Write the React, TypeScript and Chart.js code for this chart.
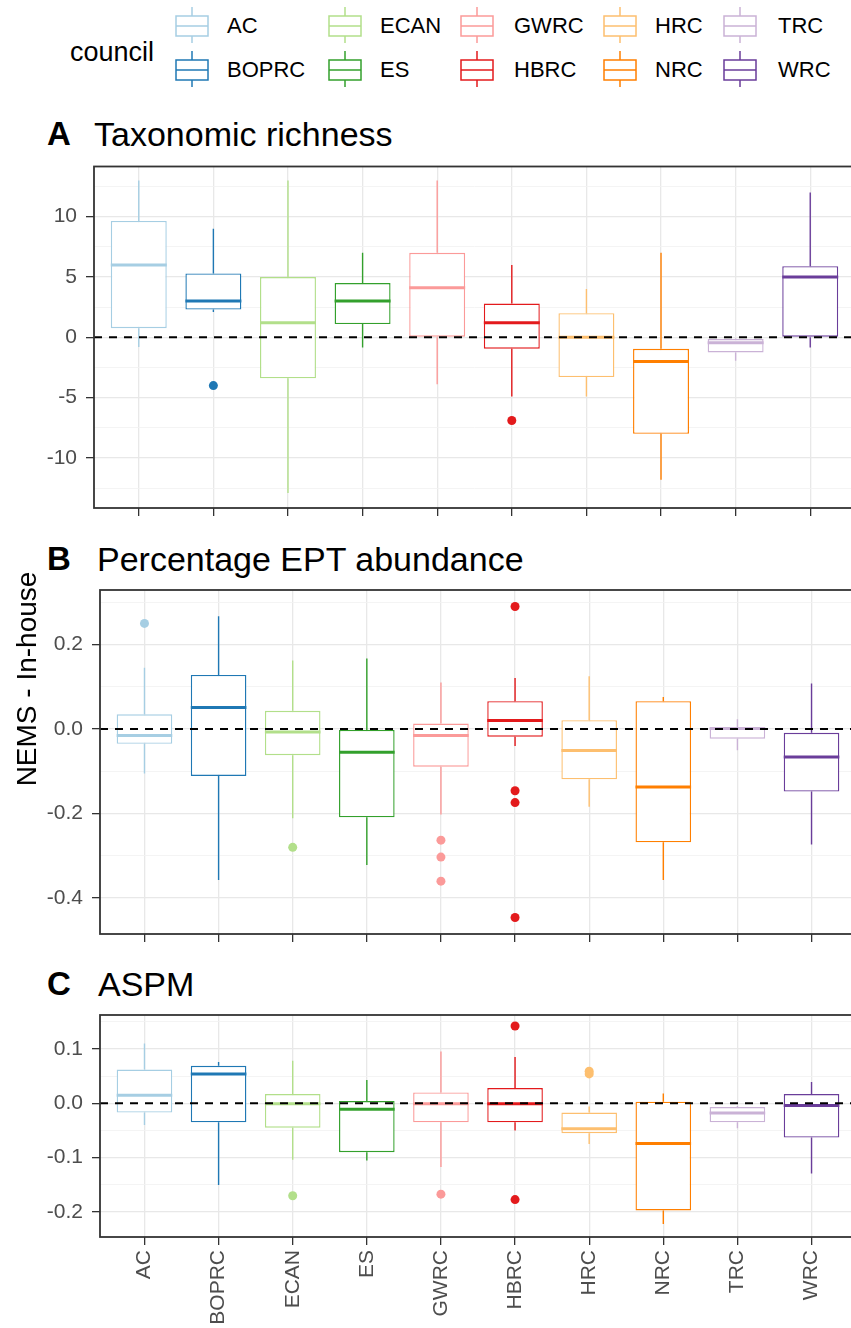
import React, { useEffect, useRef } from "react";
import { Chart, registerables } from "chart.js";
Chart.register(...registerables);

// ---------- data ----------
const councils = ["AC", "BOPRC", "ECAN", "ES", "GWRC", "HBRC", "HRC", "NRC", "TRC", "WRC"];
const councilColors = ["#A6CEE3", "#1F78B4", "#B2DF8A", "#33A02C", "#FB9A99", "#E31A1C", "#FDBF6F", "#FF7F00", "#CAB2D6", "#6A3D9A"];

// A: Taxonomic richness
const richLow = [-0.8, 2.1, -12.9, -0.85, -3.9, -4.9, -4.9, -11.8, -1.95, -0.85];
const richQ1 = [0.75, 2.3, -3.4, 1.1, 0, -0.95, -3.3, -8.0, -1.25, 0];
const richMed = [6.0, 3.0, 1.2, 3.0, 4.1, 1.2, 0, -2.0, -0.45, 5.0];
const richQ3 = [9.65, 5.3, 5.0, 4.5, 7.0, 2.8, 2.0, -0.95, -0.15, 5.9];
const richHigh = [13.0, 9.0, 13.0, 7.0, 13.0, 6.0, 4.0, 7.0, -0.1, 12.0];
const richOutliers = [[], [-4], [], [], [], [-6.9], [], [], [], []];
const richTicks = [-10, -5, 0, 5, 10];
const richTickLabels = ["-10", "-5", "0", "5", "10"];
const richMinor = [-12.5, -7.5, -2.5, 2.5, 7.5, 12.5];

// B: Percentage EPT abundance
const eptLow = [-0.105, -0.357, -0.211, -0.322, -0.202, -0.04, -0.184, -0.357, -0.05, -0.273];
const eptQ1 = [-0.035, -0.111, -0.062, -0.209, -0.089, -0.018, -0.119, -0.268, -0.023, -0.148];
const eptMed = [-0.015, 0.051, -0.007, -0.055, -0.015, 0.02, -0.051, -0.137, 0.001, -0.066];
const eptQ3 = [0.035, 0.128, 0.043, -0.002, 0.013, 0.066, 0.021, 0.066, 0.004, -0.009];
const eptHigh = [0.145, 0.267, 0.162, 0.167, 0.11, 0.121, 0.125, 0.076, 0.023, 0.108];
const eptOutliers = [[0.25], [], [-0.28], [], [-0.263, -0.303, -0.36], [0.29, -0.146, -0.174, -0.446], [], [], [], []];
const eptTicks = [-0.4, -0.2, 0, 0.2];
const eptTickLabels = ["-0.4", "-0.2", "0.0", "0.2"];
const eptMinor = [-0.3, -0.1, 0.1, 0.3];

// C: ASPM
const aspmLow = [-0.04, -0.15, -0.104, -0.105, -0.117, -0.05, -0.075, -0.222, -0.046, -0.129];
const aspmQ1 = [-0.017, -0.035, -0.045, -0.09, -0.035, -0.035, -0.055, -0.197, -0.035, -0.063];
const aspmMed = [0.015, 0.054, -0.001, -0.011, -0.001, -0.001, -0.047, -0.074, -0.018, -0.004];
const aspmQ3 = [0.062, 0.069, 0.017, 0.004, 0.02, 0.028, -0.017, 0.003, -0.007, 0.017];
const aspmHigh = [0.11, 0.076, 0.078, 0.043, 0.095, 0.085, -0.006, 0.018, -0.005, 0.039];
const aspmOutliers = [[], [], [-0.17], [], [-0.167], [0.142, -0.177], [0.059, 0.054], [], [], []];
const aspmTicks = [-0.2, -0.1, 0, 0.1];
const aspmTickLabels = ["-0.2", "-0.1", "0.0", "0.1"];
const aspmMinor = [-0.15, -0.05, 0.05, 0.15];

// ---------- styling ----------
const FONT = "'Liberation Sans', Arial, Helvetica, sans-serif";
const CANVAS_W = 880;

type PanelCfg = {
  tag: string;
  title: string;
  low: number[]; q1: number[]; med: number[]; q3: number[]; high: number[];
  outliers: number[][];
  ticks: number[]; tickLabels: string[]; minor: number[];
  min: number; max: number;
  top: number; padTop: number; height: number; yw: number; right: number; xh: number;
  showX: boolean;
  titleTop: number; titleLeft: number;
};

const panels: PanelCfg[] = [
  {
    tag: "A", title: "Taxonomic richness",
    low: richLow, q1: richQ1, med: richMed, q3: richQ3, high: richHigh, outliers: richOutliers,
    ticks: richTicks, tickLabels: richTickLabels, minor: richMinor,
    min: -14.15, max: 14.16,
    top: 156, padTop: 10.5, height: 368, yw: 94, right: 855, xh: 16, showX: false,
    titleTop: 117, titleLeft: 94,
  },
  {
    tag: "B", title: "Percentage EPT abundance",
    low: eptLow, q1: eptQ1, med: eptMed, q3: eptQ3, high: eptHigh, outliers: eptOutliers,
    ticks: eptTicks, tickLabels: eptTickLabels, minor: eptMinor,
    min: -0.485, max: 0.329,
    top: 580, padTop: 10, height: 370, yw: 100, right: 856, xh: 16, showX: false,
    titleTop: 542, titleLeft: 97,
  },
  {
    tag: "C", title: "ASPM",
    low: aspmLow, q1: aspmQ1, med: aspmMed, q3: aspmQ3, high: aspmHigh, outliers: aspmOutliers,
    ticks: aspmTicks, tickLabels: aspmTickLabels, minor: aspmMinor,
    min: -0.2458, max: 0.1623,
    top: 1005, padTop: 10, height: 323, yw: 100, right: 856, xh: 91, showX: true,
    titleTop: 967, titleLeft: 98,
  },
];

const isIn = (arr: number[], v: number) => arr.some((a) => Math.abs(a - v) < 1e-9);

function makeExtrasPlugin(p: PanelCfg) {
  return {
    id: "boxExtras" + p.tag,
    afterDatasetsDraw(chart: any) {
      const { ctx, chartArea } = chart;
      const x = chart.scales.x;
      const y = chart.scales.y;
      ctx.save();
      ctx.beginPath();
      ctx.rect(chartArea.left, chartArea.top, chartArea.right - chartArea.left, chartArea.bottom - chartArea.top);
      ctx.clip();
      ctx.lineCap = "butt";
      p.low.forEach((lo, i) => {
        const cx = x.getPixelForValue(i);
        ctx.strokeStyle = councilColors[i];
        ctx.lineWidth = 1.4;
        ctx.beginPath();
        ctx.moveTo(cx, y.getPixelForValue(p.q3[i]));
        ctx.lineTo(cx, y.getPixelForValue(p.high[i]));
        ctx.moveTo(cx, y.getPixelForValue(p.q1[i]));
        ctx.lineTo(cx, y.getPixelForValue(lo));
        ctx.stroke();
        ctx.lineWidth = 3;
        ctx.beginPath();
        const my = y.getPixelForValue(p.med[i]);
        ctx.moveTo(x.getPixelForValue(i - 0.375), my);
        ctx.lineTo(x.getPixelForValue(i + 0.375), my);
        ctx.stroke();
      });
      const y0 = y.getPixelForValue(0);
      ctx.setLineDash([8, 7]);
      ctx.strokeStyle = "#000000";
      ctx.lineWidth = 2;
      ctx.beginPath();
      ctx.moveTo(chartArea.left, y0);
      ctx.lineTo(chartArea.right, y0);
      ctx.stroke();
      ctx.restore();
    },
    afterDraw(chart: any) {
      const { ctx, chartArea } = chart;
      ctx.save();
      ctx.strokeStyle = "#333333";
      ctx.lineWidth = 1.8;
      ctx.strokeRect(chartArea.left, chartArea.top, chartArea.right - chartArea.left, chartArea.bottom - chartArea.top);
      ctx.restore();
    },
  };
}

function Panel({ p }: { p: PanelCfg }) {
  const ref = useRef<HTMLCanvasElement>(null);
  useEffect(() => {
    const boxData = councils.map((_, i) => ({ x: i, y: [p.q1[i], p.q3[i]] }));
    const outData: { x: number; y: number }[] = [];
    const outColors: string[] = [];
    p.outliers.forEach((vals, i) =>
      vals.forEach((v) => {
        outData.push({ x: i, y: v });
        outColors.push(councilColors[i]);
      })
    );
    const allTicks = [...p.ticks, ...p.minor].sort((a, b) => a - b);
    const chart = new Chart(ref.current as HTMLCanvasElement, {
      type: "bar",
      data: {
        datasets: [
          {
            type: "bar",
            data: boxData as any,
            backgroundColor: "#FFFFFF",
            borderColor: councilColors,
            borderWidth: 1.4,
            borderSkipped: false,
            barPercentage: 0.75,
            categoryPercentage: 1,
          } as any,
          {
            type: "scatter",
            data: outData,
            pointBackgroundColor: outColors,
            pointBorderWidth: 0,
            pointRadius: 4.5,
            showLine: false,
          } as any,
        ],
      },
      options: {
        animation: false,
        responsive: false,
        devicePixelRatio: 1,
        layout: { padding: { top: p.padTop, right: CANVAS_W - p.right, left: 0, bottom: 0 } },
        plugins: { legend: { display: false }, tooltip: { enabled: false }, title: { display: false } },
        scales: {
          x: {
            type: "linear",
            min: -0.6,
            max: 9.6,
            offset: false,
            afterBuildTicks: (s: any) => {
              s.ticks = councils.map((_, i) => ({ value: i }));
            },
            afterFit: (s: any) => {
              s.height = p.xh;
              s.paddingLeft = 0;
              s.paddingRight = 0;
            },
            grid: {
              offset: false,
              color: "#E8E8E8",
              lineWidth: 1.3,
              drawTicks: true,
              tickLength: 8,
              tickColor: "#333333",
              tickWidth: 1.3,
            },
            border: { display: false },
            ticks: {
              display: p.showX,
              autoSkip: false,
              minRotation: 90,
              maxRotation: 90,
              padding: 5,
              color: "#4D4D4D",
              font: { family: FONT, size: 21 },
              callback: (v: any) => councils[Math.round(Number(v))] ?? "",
            },
          },
          y: {
            type: "linear",
            min: p.min,
            max: p.max,
            afterBuildTicks: (s: any) => {
              s.ticks = allTicks.map((v) => ({ value: v }));
            },
            afterFit: (s: any) => {
              s.width = p.yw;
              s.paddingTop = 0;
              s.paddingBottom = 0;
            },
            grid: {
              color: (c: any) => (isIn(p.ticks, c.tick?.value) ? "#E8E8E8" : "#F1F1F1"),
              lineWidth: (c: any) => (isIn(p.ticks, c.tick?.value) ? 1.3 : 0.8),
              drawTicks: true,
              tickLength: 8,
              tickColor: (c: any) => (isIn(p.ticks, c.tick?.value) ? "#333333" : "rgba(0,0,0,0)"),
              tickWidth: 1.3,
            },
            border: { display: false },
            ticks: {
              autoSkip: false,
              padding: 9,
              color: "#4D4D4D",
              font: { family: FONT, size: 21 },
              callback: (v: any) => {
                const idx = p.ticks.findIndex((t) => Math.abs(t - Number(v)) < 1e-9);
                return idx >= 0 ? p.tickLabels[idx] : "";
              },
            },
          },
        },
      } as any,
      plugins: [makeExtrasPlugin(p)],
    });
    return () => chart.destroy();
  }, []);
  return (
    <canvas
      ref={ref}
      width={CANVAS_W}
      height={p.height}
      style={{ position: "absolute", left: 0, top: p.top, width: CANVAS_W, height: p.height }}
    />
  );
}

function LegendKey({ color, left, top }: { color: string; left: number; top: number }) {
  return (
    <svg width={34} height={36} style={{ position: "absolute", left, top }}>
      <line x1={17} y1={0} x2={17} y2={9} stroke={color} strokeWidth={1.5} />
      <line x1={17} y1={29} x2={17} y2={36} stroke={color} strokeWidth={1.5} />
      <rect x={1} y={9} width={32} height={20} fill="#FFFFFF" stroke={color} strokeWidth={1.5} />
      <line x1={1} y1={19} x2={33} y2={19} stroke={color} strokeWidth={1.5} />
    </svg>
  );
}

const legendKeyLefts = [175, 328, 460, 603, 723];
const legendLabelLefts = [227, 380, 514, 655, 778];
const legendRowCenters = [26, 69.5];

export default function App() {
  return (
    <div
      style={{
        position: "absolute",
        left: 0,
        top: 0,
        width: 851,
        height: 1328,
        overflow: "hidden",
        background: "#FFFFFF",
        fontFamily: FONT,
      }}
    >
      {/* legend */}
      <div style={{ position: "absolute", left: 70, top: 35, fontSize: 27, lineHeight: "34px", color: "#000" }}>council</div>
      {councils.map((c, i) => {
        const col = Math.floor(i / 2);
        const row = i % 2;
        const cy = legendRowCenters[row];
        return (
          <React.Fragment key={c}>
            <LegendKey color={councilColors[i]} left={legendKeyLefts[col]} top={cy - 19} />
            <div
              style={{
                position: "absolute",
                left: legendLabelLefts[col],
                top: cy - 14,
                fontSize: 22,
                lineHeight: "28px",
                color: "#000",
                whiteSpace: "nowrap",
              }}
            >
              {c}
            </div>
          </React.Fragment>
        );
      })}

      {/* panel titles */}
      {panels.map((p) => (
        <React.Fragment key={p.tag}>
          <div style={{ position: "absolute", left: 47, top: p.titleTop, fontSize: 33, lineHeight: 1, fontWeight: "bold", color: "#000" }}>
            {p.tag}
          </div>
          <div style={{ position: "absolute", left: p.titleLeft, top: p.titleTop - 0.5, fontSize: 34, lineHeight: 1, color: "#000", whiteSpace: "nowrap" }}>
            {p.title}
          </div>
        </React.Fragment>
      ))}

      {panels.map((p) => (
        <Panel key={p.tag} p={p} />
      ))}

      {/* y-axis title */}
      <div
        style={{
          position: "absolute",
          left: 26.5 - 150,
          top: 679 - 17,
          width: 300,
          height: 34,
          lineHeight: "34px",
          textAlign: "center",
          fontSize: 28,
          color: "#000",
          transform: "rotate(-90deg)",
          transformOrigin: "50% 50%",
          whiteSpace: "nowrap",
        }}
      >
        NEMS - In-house
      </div>
    </div>
  );
}
